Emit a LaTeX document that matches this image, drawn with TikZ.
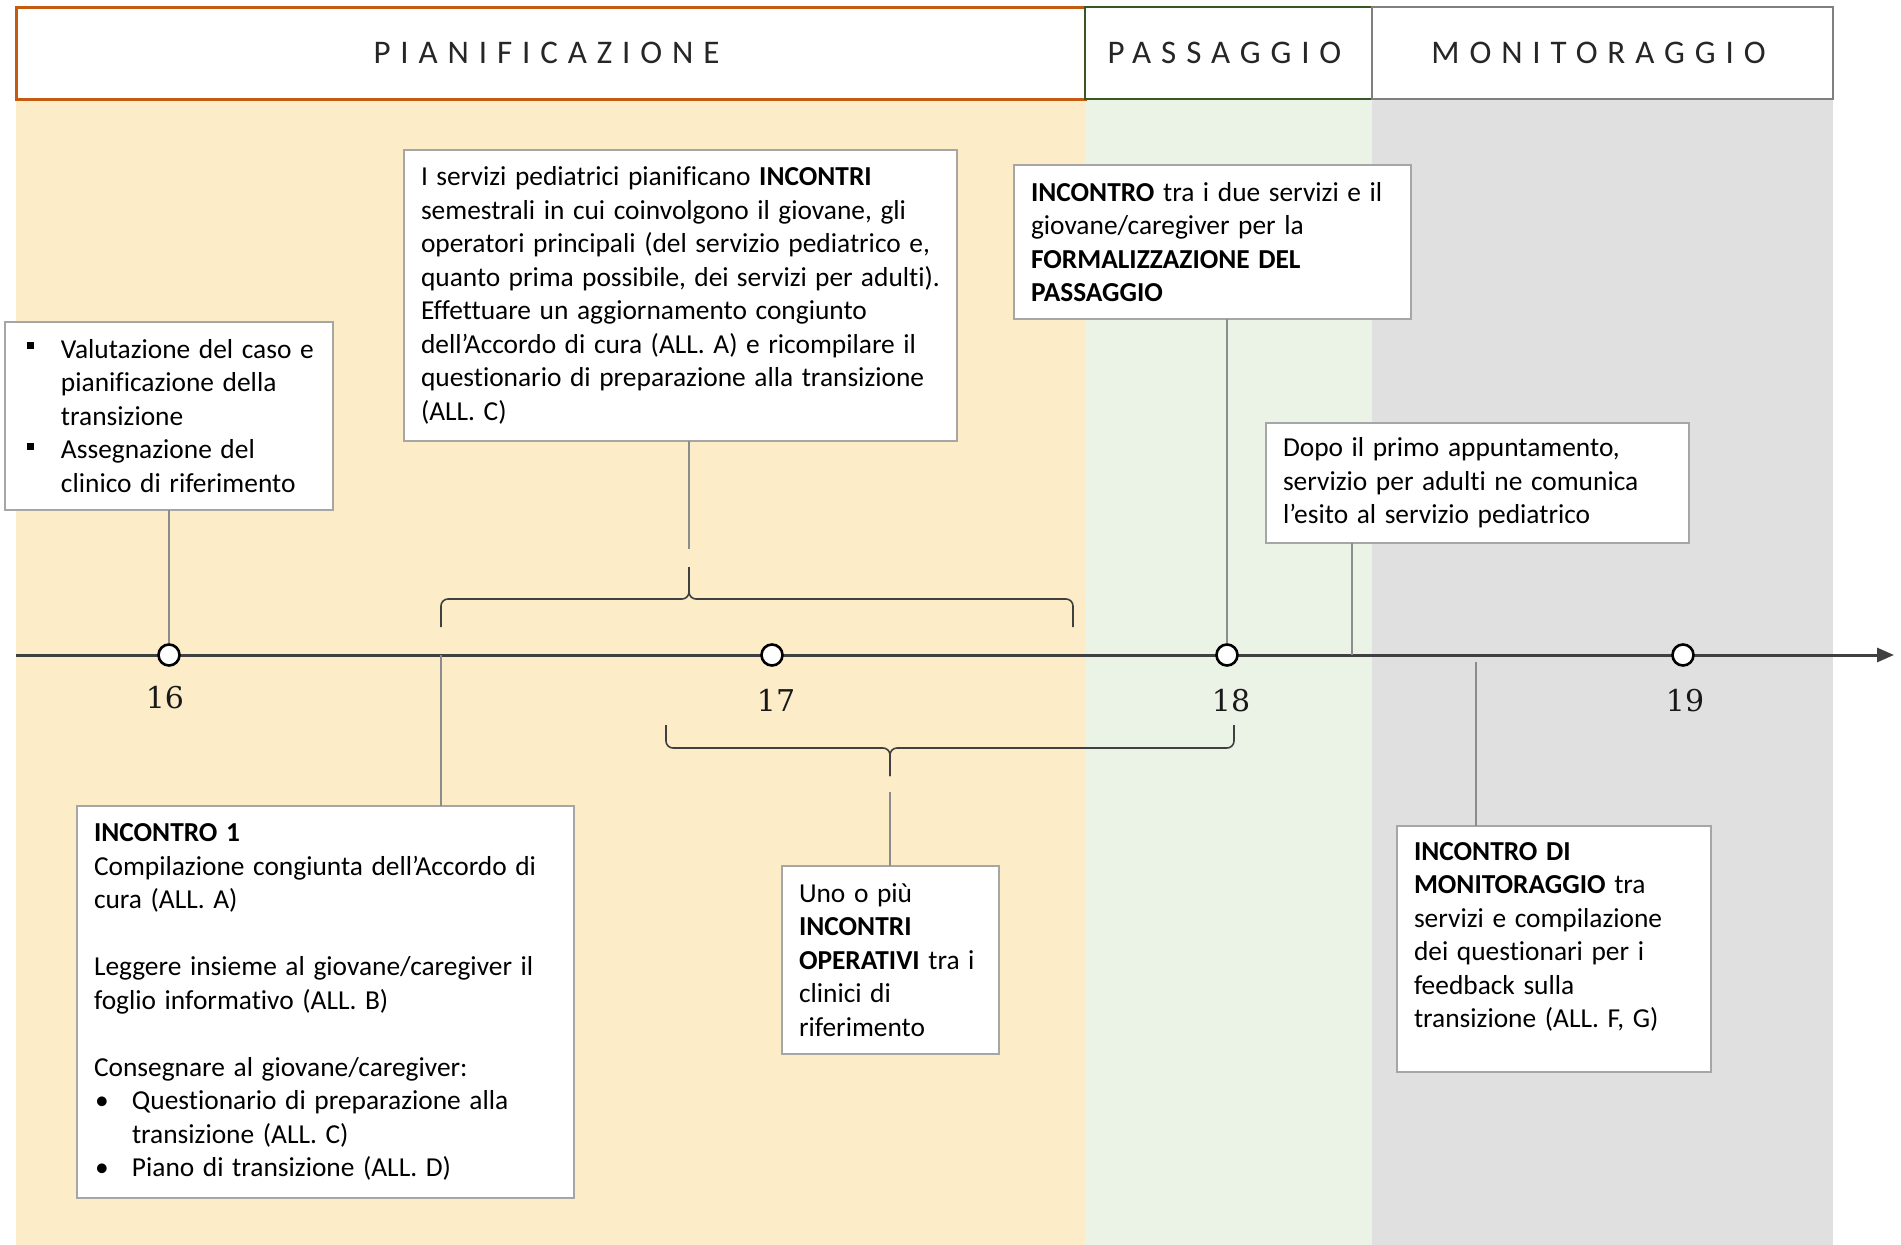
\documentclass[tikz,border=0pt]{standalone}
\usepackage{fontspec}
\usetikzlibrary{positioning, arrows.meta}

\newfontfamily\calibri[Ligatures=NoCommon]{Carlito}
\newfontfamily\phasefont[LetterSpace=30]{Carlito}
\newfontfamily\agefont{DejaVu Serif}
\newcommand\boxfont{\calibri\fontsize{27.4}{33.5}\selectfont
   \spaceskip=8.6pt plus 2pt minus 3pt\relax\linepenalty=1000\relax}

\definecolor{pianorange}{RGB}{197,90,17}
\definecolor{passgreen}{RGB}{56,87,35}
\definecolor{monigray}{RGB}{127,127,127}
\definecolor{bandyellow}{RGB}{252,237,200}
\definecolor{bandgreen}{RGB}{235,243,230}
\definecolor{bandgray}{RGB}{224,224,224}
\definecolor{boxgray}{RGB}{166,166,166}
\definecolor{linkgray}{RGB}{140,140,140}
\definecolor{axisgray}{RGB}{64,64,64}
\definecolor{phasetext}{RGB}{38,38,38}

\begin{document}
\begin{tikzpicture}[x=1pt,y=-1pt,node distance=20pt,
   phase/.style={draw,line width=2.6pt,fill=white,anchor=north west,inner sep=0pt,outer sep=0pt,
      minimum height=92pt,text=phasetext,font=\phasefont\fontsize{33}{40}\selectfont},
   box/.style={draw=boxgray,line width=1.2pt,fill=white,anchor=north west,inner xsep=17pt,
      inner ysep=0pt,outer sep=0pt,align=flush left,font=\boxfont},
   tick/.style={circle,draw=black,fill=white,line width=2.6pt,inner sep=0pt,minimum size=21pt},
   age/.style={inner sep=0pt,outer sep=0pt,text=black!90,font=\agefont\fontsize{30}{36}\selectfont},
   axis/.style={draw=axisgray,line width=3pt,-{Triangle[length=17pt,width=14pt]}},
   link/.style={draw=linkgray,line width=1.2pt},
   brace/.style={draw=axisgray,line width=1.6pt,rounded corners=7pt}]

   \useasboundingbox (0,0) rectangle (1901,1245);

   \fill[bandyellow] (16,99) rectangle (1085,1245);
   \fill[bandgreen] (1085,99) rectangle (1372,1245);
   \fill[bandgray] (1372,99) rectangle (1833,1245);

   \node[phase,draw=pianorange,line width=3pt,minimum width=1069pt] (pian) at (16,7) {\hspace*{-8pt}PIANIFICAZIONE};
   \node[phase,draw=passgreen,minimum width=287pt] (pass) at (1085,7) {\hspace*{-8pt}PASSAGGIO};
   \node[phase,draw=monigray,minimum width=461pt] (moni) at (1372,7) {\hspace*{-8pt}MONITORAGGIO};

   \coordinate (axstart) at (16,655);
   \coordinate (axend) at (1894,655);
   \draw[axis] (axstart) -- (axend);

   \node[tick] (t16) at (169,655) {};
   \node[tick] (t17) at (772,655) {};
   \node[tick] (t18) at (1227,655) {};
   \node[tick] (t19) at (1683,655) {};

   \node[age,below=19pt of t16,xshift=-4pt] (l16) {16};
   \node[age,below=22.5pt of t17,xshift=4pt] (l17) {17};
   \node[age,below=22.5pt of t18,xshift=4pt] (l18) {18};
   \node[age,below=22.5pt of t19,xshift=2pt] (l19) {19};

   \node[box,minimum height=188pt,text width=294pt] (A) at (5,322)
      {\makebox[39pt][l]{\hspace{5pt}\rule[9pt]{7pt}{7pt}}Valutazione del caso e\\
       \hspace*{39pt}pianificazione della\\
       \hspace*{39pt}transizione\\
       \makebox[39pt][l]{\hspace{5pt}\rule[9pt]{7pt}{7pt}}Assegnazione del\\
       \hspace*{39pt}clinico di riferimento};

   \node[box,minimum height=291pt,text width=519pt] (B) at (404,150)
      {I servizi pediatrici pianificano \textbf{INCONTRI}\\
       semestrali in cui coinvolgono il giovane, gli\\
       operatori principali (del servizio pediatrico e,\\
       quanto prima possibile, dei servizi per adulti).\\
       Effettuare un aggiornamento congiunto\\
       dell’Accordo di cura (ALL. A) e ricompilare il\\
       questionario di preparazione alla transizione\\
       (ALL. C)};

   \node[box,minimum height=392pt,text width=463pt] (C) at (77,806)
      {\textbf{INCONTRO 1}\\
       Compilazione congiunta dell’Accordo di\\
       cura (ALL. A)\\[33.5pt]
       Leggere insieme al giovane/caregiver il\\
       foglio informativo (ALL. B)\\[33.5pt]
       Consegnare al giovane/caregiver:\\
       \makebox[38pt][l]{\hspace{1pt}\textbullet}Questionario di preparazione alla\\
       \hspace*{38pt}transizione (ALL. C)\\
       \makebox[38pt][l]{\hspace{1pt}\textbullet}Piano di transizione (ALL. D)};

   \node[box,minimum height=188pt,text width=183pt] (D) at (782,866)
      {Uno o più\\
       \textbf{INCONTRI}\\
       \textbf{OPERATIVI} tra i\\
       clinici di\\
       riferimento};

   \node[box,minimum height=154pt,text width=363pt] (E) at (1014,165)
      {\textbf{INCONTRO} tra i due servizi e il\\
       giovane/caregiver per la\\
       \textbf{FORMALIZZAZIONE DEL}\\
       \textbf{PASSAGGIO}};

   \node[box,minimum height=120pt,text width=389pt] (F) at (1266,423)
      {Dopo il primo appuntamento,\\
       servizio per adulti ne comunica\\
       l’esito al servizio pediatrico};

   \node[box,minimum height=246pt,text width=280pt] (G) at (1397,826)
      {\textbf{INCONTRO DI}\\
       \textbf{MONITORAGGIO} tra\\
       servizi e compilazione\\
       dei questionari per i\\
       feedback sulla\\
       transizione (ALL. F, G)\rule[-28pt]{0pt}{0pt}};

   \coordinate (b1) at (689,549);
   \coordinate (c1) at (441,655);
   \coordinate (d1) at (890,792);
   \coordinate (f1) at (1352,655);
   \coordinate (g1) at (1476,662);

   \draw[link] (A) -- (t16);
   \draw[link] (B.south -| b1) -- (b1);
   \draw[link] (C.north -| c1) -- (c1);
   \draw[link] (D.north -| d1) -- (d1);
   \draw[link] (E.south -| t18) -- (t18);
   \draw[link] (F.south -| f1) -- (f1);
   \draw[link] (G.north -| g1) -- (g1);

   \draw[brace] (441,627) -- (441,599) -- (689,599) -- (689,567);
   \draw[brace] (1073,627) -- (1073,599) -- (689,599) -- (689,567);
   \draw[brace] (666,725) -- (666,748) -- (890,748) -- (890,776);
   \draw[brace] (1234,725) -- (1234,748) -- (890,748) -- (890,776);

\end{tikzpicture}
\end{document}
